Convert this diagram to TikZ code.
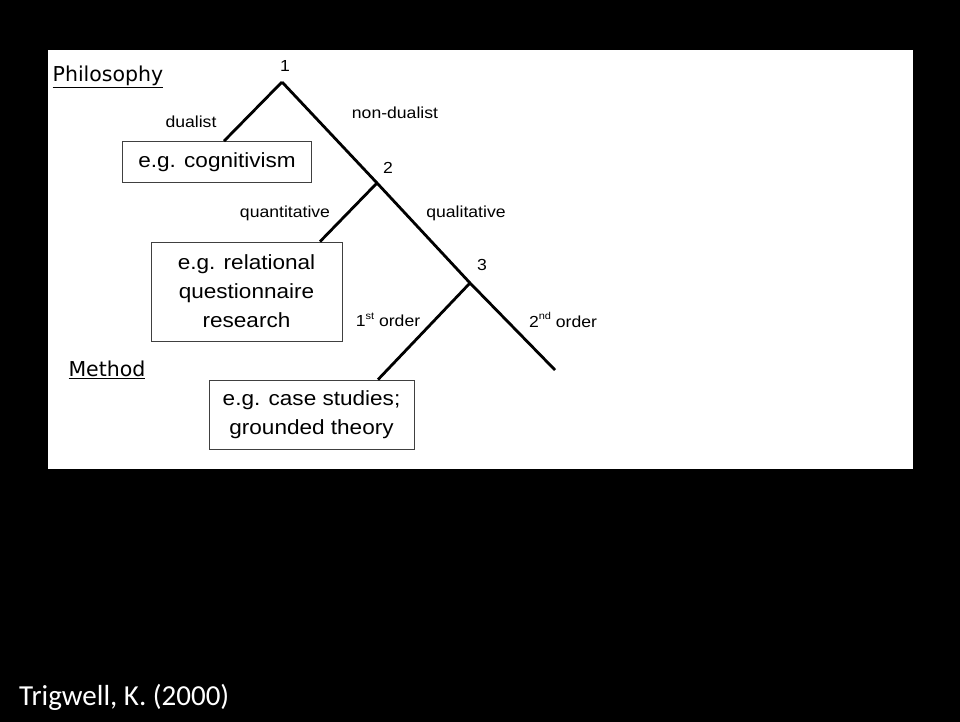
\documentclass[tikz,border=0pt]{standalone}
\usepackage{fontspec}
\setmainfont{Liberation Sans}
\newfontfamily\lblfont[FakeStretch=1.1]{Liberation Sans}
\newfontfamily\headfont{DejaVu Sans}
\newfontfamily\citefont{Carlito}
\usetikzlibrary{calc,positioning}
\newcommand{\sups}[1]{\raisebox{0.45em}{\fontsize{10}{10}\selectfont #1}}

\begin{document}
\begin{tikzpicture}[x=1pt,y=-1pt]
\tikzstyle{ex}=[draw=black!75,line width=0.8pt,align=center,inner sep=0pt,
  font=\lblfont\fontsize{20.5}{29}\selectfont]
\tikzstyle{lbl}=[inner sep=0pt,font=\lblfont\fontsize{16}{18}\selectfont]
\tikzstyle{head}=[inner sep=0pt,font=\headfont\fontsize{20.5}{24}\selectfont]
\tikzstyle{br}=[line width=2.8pt]
% page and slide
\fill[black] (0,0) rectangle (960,722);
\fill[white] (48,50) rectangle (913,469);
\useasboundingbox (0,0) rectangle (960,722);
% junctions
\coordinate (n1) at (282,82);
\coordinate (n2) at (377,183);
\coordinate (n3) at (470,283);
\coordinate (end) at (555,370);
% example boxes
\node[ex,minimum width=189,minimum height=41] (cog) at (217,162) {e.g. cognitivism};
\node[ex,minimum width=191,minimum height=99] (rel) at (246.5,291.5) {e.g. relational\\questionnaire\\research};
\node[ex,minimum width=205,minimum height=69] (case) at (311.5,414.5) {e.g. case studies;\\grounded theory};
% branches
\draw[br] (n1) -- ($(cog.north)+(7,0)$);
\draw[br] (n1) -- (n2) -- (n3) -- (end);
\draw[br] (n2) -- ($(rel.north)+(73.5,0)$);
\draw[br] (n3) -- ($(case.north)+(66.5,0)$);
% labels
\node[lbl] (t1) at (285,66) {1};
\node[lbl] (t2) at (388,168) {2};
\node[lbl] (t3) at (482,265) {3};
\node[lbl] (dual) at (191,122) {dualist};
\node[lbl] (ndual) at (395,113) {non-dualist};
\node[lbl] (quant) at (285,213) {quantitative};
\node[lbl] (qual) at (466,213) {qualitative};
\node[lbl] (first) at (388,320) {1\sups{st} order};
\node[lbl] (second) at (563,320) {2\sups{nd} order};
\node[head] (phil) at (108,77) {\underline{Philosophy}};
\node[head] (meth) at (107,370) {\underline{Method}};
\node[anchor=west,inner sep=0pt,text=white,font=\citefont\fontsize{29}{32}\selectfont] (cite) at (19,697) {Trigwell, K. (2000)};
\end{tikzpicture}
\end{document}
